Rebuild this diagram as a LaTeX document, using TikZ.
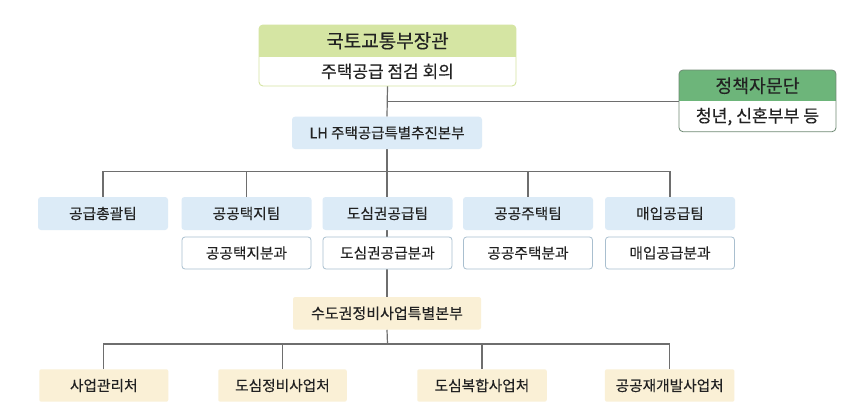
\documentclass[tikz,border=0pt]{standalone}
\usepackage{fontspec}
\setmainfont{Noto Sans CJK KR}[FakeBold=0.25]
\usetikzlibrary{backgrounds,calc}
\definecolor{topgreen}{HTML}{D5E5A3}
\definecolor{advgreen}{HTML}{6DB57A}
\definecolor{advborder}{HTML}{6F8A74}
\definecolor{teamblue}{HTML}{DCEBF7}
\definecolor{subborder}{HTML}{A9BFCF}
\definecolor{beige}{HTML}{FAF0D6}
\definecolor{linegray}{HTML}{6E6E6E}
\definecolor{txt}{HTML}{222222}
\tikzset{
  x=1pt, y=-1pt,
  every node/.style={text=txt, inner sep=0pt, outer sep=0pt},
  fnt/.style={font=\fontsize{14.7}{17}\selectfont},
  teambox/.style={fill=teamblue, rounded corners=3pt, minimum width=130pt, minimum height=33pt, fnt},
  subbox/.style={fill=white, draw=subborder, line width=0.8pt, rounded corners=3pt, minimum width=129pt, minimum height=32pt, fnt},
  beigebox/.style={fill=beige, rounded corners=2pt, minimum height=32.4pt, fnt},
  conn/.style={draw=linegray, line width=1.2pt},
}
\begin{document}
\begin{tikzpicture}
\useasboundingbox (0,0) rectangle (855,420);

% top composite box
\node[minimum width=257pt, minimum height=31.7pt, font=\fontsize{19}{22}\selectfont] (minister) at (387.5,40.85) {국토교통부장관};
\node[minimum width=257pt, minimum height=29.3pt, font=\fontsize{17}{20}\selectfont] (meeting) at (387.5,71.35) {주택공급 점검 회의};

% advisory composite box
\node[minimum width=157pt, minimum height=31.5pt, font=\fontsize{18.3}{21}\selectfont] (adv) at (757.5,85.75) {정책자문단};
\node[minimum width=157pt, minimum height=30.2pt, font=\fontsize{17.2}{20}\selectfont] (advsub) at (757.5,116.6) {청년, 신혼부부 등};

% LH
\node[fill=teamblue, rounded corners=3pt, minimum width=190pt, minimum height=32.3pt, font=\fontsize{14.5}{17}\selectfont] (lh) at (387,132.85) {LH 주택공급특별추진본부};

% teams
\node[teambox] (t1) at (103,213.5) {공급총괄팀};
\node[teambox] (t2) at (246.5,213.5) {공공택지팀};
\node[teambox] (t3) at (387.5,213.5) {도심권공급팀};
\node[teambox] (t4) at (528,213.5) {공공주택팀};
\node[teambox] (t5) at (670,213.5) {매입공급팀};

\node[subbox] (s2) at (246.5,253) {공공택지분과};
\node[subbox] (s3) at (387.5,253) {도심권공급분과};
\node[subbox] (s4) at (528,253) {공공주택분과};
\node[subbox] (s5) at (670,253) {매입공급분과};

% metropolitan HQ
\node[beigebox, minimum width=188pt, font=\fontsize{15}{18}\selectfont] (hq) at (387,313.3) {수도권정비사업특별본부};

\node[beigebox, minimum width=129pt] (b1) at (103.8,385.5) {사업관리처};
\node[beigebox, minimum width=128.5pt] (b2) at (282.5,385.5) {도심정비사업처};
\node[beigebox, minimum width=129.5pt] (b3) at (482,385.5) {도심복합사업처};
\node[beigebox, minimum width=129.5pt] (b4) at (669.7,385.5) {공공재개발사업처};

\coordinate (busA) at (387.5,171.7);
\coordinate (busB) at (387.5,344);

\begin{scope}[on background layer]
  \fill[white] (0,0) rectangle (855,420);
  % connectors
  \draw[conn] (meeting.south) -- (lh.north);
  \draw[conn] (meeting.south |- adv.south west) -- (adv.south west);
  \draw[conn] (lh.south) -- (hq.north);
  \draw[conn] (t1.north) |- (busA) -| (t5.north);
  \draw[conn] (t2.north) -- (t2.north |- busA);
  \draw[conn] (t4.north) -- (t4.north |- busA);
  \draw[conn] (b1.north) |- (busB) -| (b4.north);
  \draw[conn] (b2.north) -- (b2.north |- busB);
  \draw[conn] (b3.north) -- (b3.north |- busB);
  \draw[conn] (hq.south) -- (busB);
  % top box background
  \begin{scope}
    \clip[rounded corners=4pt] (minister.north west) rectangle (meeting.south east);
    \fill[white] (minister.north west) rectangle (meeting.south east);
    \fill[topgreen] (minister.north west) rectangle (minister.south east);
  \end{scope}
  \draw[topgreen, line width=0.9pt, rounded corners=4pt] (minister.north west) rectangle (meeting.south east);
  % advisory box background
  \begin{scope}
    \clip[rounded corners=4pt] (adv.north west) rectangle (advsub.south east);
    \fill[white] (adv.north west) rectangle (advsub.south east);
    \fill[advgreen] (adv.north west) rectangle (adv.south east);
  \end{scope}
  \draw[advborder, line width=0.8pt, rounded corners=4pt] (adv.north west) rectangle (advsub.south east);
\end{scope}
\end{tikzpicture}
\end{document}
